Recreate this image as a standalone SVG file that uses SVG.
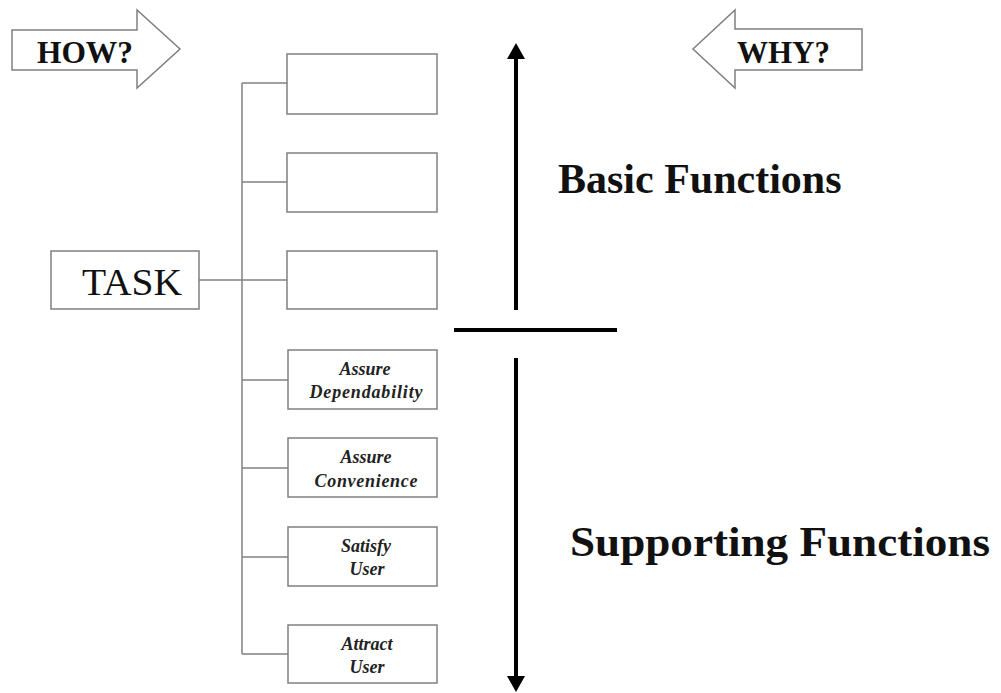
<svg xmlns="http://www.w3.org/2000/svg" width="1001" height="693" viewBox="0 0 1001 693">
<style>
.box{fill:#fff;stroke:#808080;stroke-width:1.5}
.conn{fill:none;stroke:#808080;stroke-width:1.5}
.hw{font-family:"Liberation Serif","Times New Roman",serif;font-weight:bold;font-size:31px;fill:#111}
.big{font-family:"Liberation Serif","Times New Roman",serif;font-weight:bold;font-size:42px;fill:#111}
.task{font-family:"Liberation Serif","Times New Roman",serif;font-size:38px;fill:#111}
.lbl{font-family:"Liberation Serif","Times New Roman",serif;font-weight:bold;font-style:italic;font-size:18px;fill:#222;text-anchor:middle}
</style>
<rect width="1001" height="693" fill="#fff"/>
<g id="how">
<polygon class="box" points="12,30 137,30 137,10 180,49 137,88 137,70 12,70"/>
<text class="hw" x="37" y="63" textLength="96" lengthAdjust="spacingAndGlyphs">HOW?</text>
</g>
<g id="why">
<polygon class="box" points="862,29 735,29 735,10 693,49 735,88 735,70 862,70"/>
<text class="hw" x="737" y="63" textLength="93" lengthAdjust="spacingAndGlyphs">WHY?</text>
</g>
<g id="connectors">
<line class="conn" x1="242" y1="83" x2="242" y2="654"/>
<line class="conn" x1="242" y1="83" x2="287" y2="83"/>
<line class="conn" x1="242" y1="182" x2="287" y2="182"/>
<line class="conn" x1="199" y1="280" x2="287" y2="280"/>
<line class="conn" x1="242" y1="380" x2="288" y2="380"/>
<line class="conn" x1="242" y1="468" x2="288" y2="468"/>
<line class="conn" x1="242" y1="557" x2="288" y2="557"/>
<line class="conn" x1="242" y1="654" x2="288" y2="654"/>
</g>
<g id="task">
<rect class="box" x="51" y="251" width="148" height="58"/>
<text class="task" x="82" y="295" textLength="100" lengthAdjust="spacingAndGlyphs">TASK</text>
</g>
<g id="b1"><rect class="box" x="287" y="54" width="150" height="60"/></g>
<g id="b2"><rect class="box" x="287" y="153" width="150" height="59"/></g>
<g id="b3"><rect class="box" x="287" y="251" width="150" height="58"/></g>
<g id="b4"><rect class="box" x="288" y="350" width="149" height="59"/>
<text class="lbl" x="365" y="375">Assure</text>
<text class="lbl" x="366" y="398" textLength="113" lengthAdjust="spacing">Dependability</text></g>
<g id="b5"><rect class="box" x="288" y="438" width="149" height="59"/>
<text class="lbl" x="366" y="463">Assure</text>
<text class="lbl" x="366" y="487" textLength="103" lengthAdjust="spacing">Convenience</text></g>
<g id="b6"><rect class="box" x="288" y="527" width="149" height="59"/>
<text class="lbl" x="366" y="552">Satisfy</text>
<text class="lbl" x="367" y="575">User</text></g>
<g id="b7"><rect class="box" x="288" y="625" width="149" height="58"/>
<text class="lbl" x="367" y="650">Attract</text>
<text class="lbl" x="367" y="673">User</text></g>
<g id="axis">
<line x1="516" y1="56" x2="516" y2="310" stroke="#000" stroke-width="4"/>
<polygon points="516,43 507,59 525,59" fill="#000"/>
<line x1="454" y1="330" x2="617" y2="330" stroke="#000" stroke-width="4"/>
<line x1="516" y1="358" x2="516" y2="678" stroke="#000" stroke-width="4"/>
<polygon points="507,676 525,676 516,692" fill="#000"/>
</g>
<text class="big" x="558" y="193">Basic Functions</text>
<text class="big" x="570" y="556" textLength="420" lengthAdjust="spacingAndGlyphs">Supporting Functions</text>
</svg>
